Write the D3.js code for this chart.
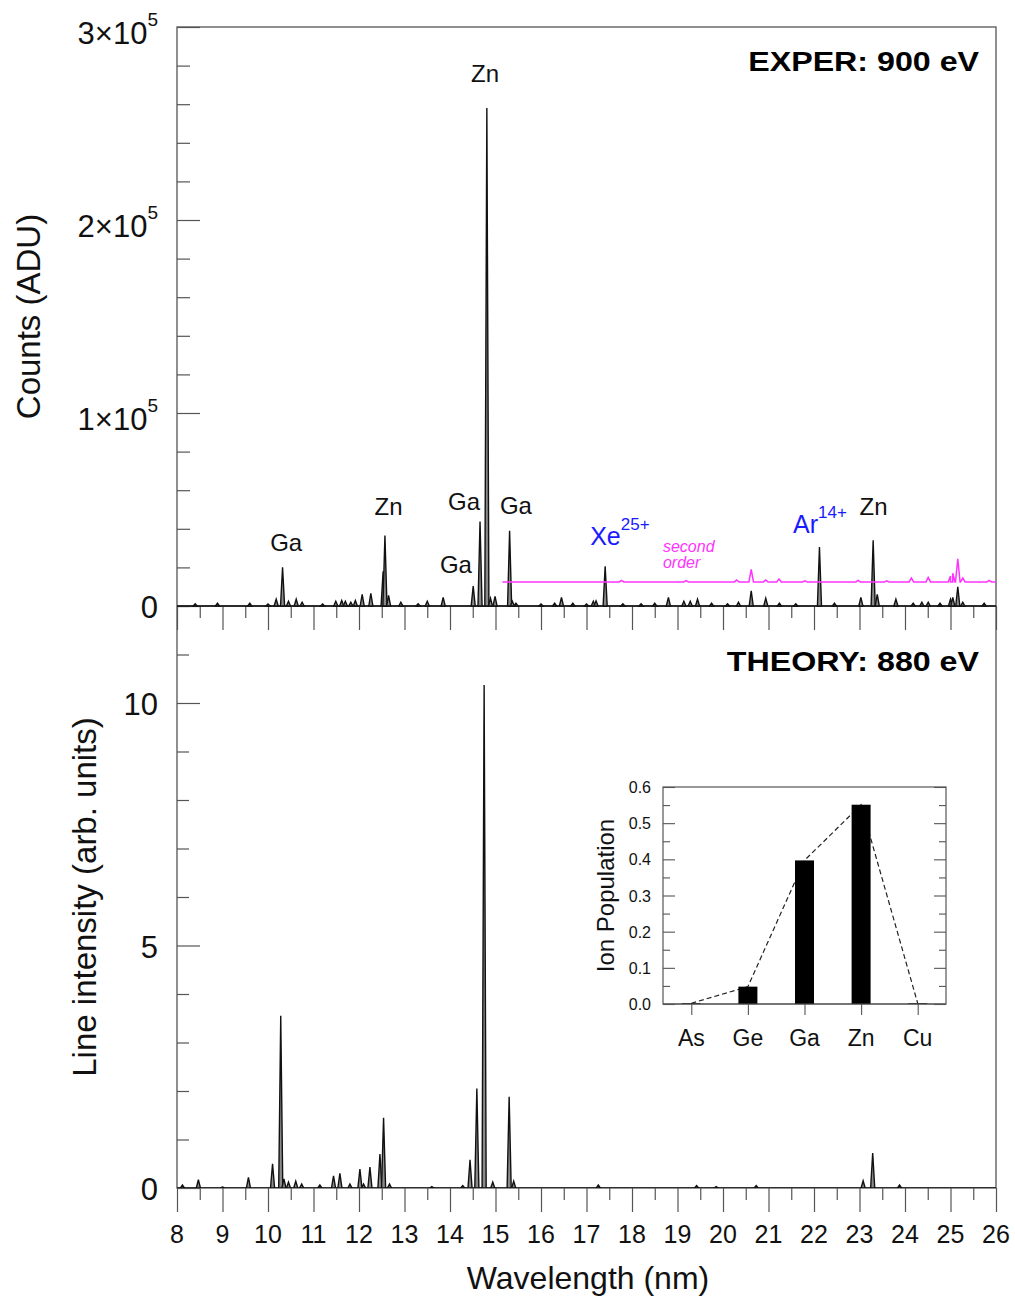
<!DOCTYPE html>
<html>
<head>
<meta charset="utf-8">
<script src="https://cdn.jsdelivr.net/npm/d3@7"></script>
<style>
  body { margin: 0; background: #fff; }
  text { font-family: "Liberation Sans", Arial, Helvetica, sans-serif; }
</style>
</head>
<body>
<div id="chart"></div>
<script>
// ---- data ----
// experiment, 900 eV: line centres (nm) and peak counts (ADU)
const experWl = [8.4, 8.89, 9.6, 10.0, 10.18, 10.32, 10.45, 10.62, 10.75, 11.2, 11.49, 11.62, 11.7, 11.82, 11.92,
  12.07, 12.26, 12.53, 12.57, 12.65, 12.92, 13.3, 13.5, 13.85, 14.51, 14.66, 14.81, 14.89, 14.99, 15.31, 15.37,
  15.45, 16.0, 16.3, 16.45, 16.7, 17.0, 17.15, 17.21, 17.41, 17.8, 18.2, 18.5, 18.8, 19.14, 19.28, 19.44, 19.75,
  20.1, 20.34, 20.62, 20.94, 21.24, 21.6, 22.12, 22.45, 23.03, 23.3, 23.39, 23.8, 24.18, 24.37, 24.51, 24.77,
  25.0, 25.05, 25.16, 25.27, 25.74]
const experCounts = [1200, 1500, 1500, 1000, 3500, 20000, 2500, 3500, 2000, 1000, 2500, 2800, 2500, 2000, 2800,
  6000, 6500, 18000, 36500, 5500, 2000, 1200, 2500, 4500, 10300, 43800, 258000, 4000, 5000, 39000, 2500,
  1500, 1000, 1500, 4500, 1500, 1000, 2500, 2700, 20600, 1200, 1200, 1500, 4500, 2500, 2500, 3500, 1500,
  1200, 2000, 7900, 4000, 1500, 1200, 30500, 1500, 4500, 34000, 6000, 3500, 1500, 2000, 2000, 1500,
  3500, 4500, 10000, 2000, 1500]

// second-order trace (offset copy drawn in magenta)
const secondStart = 15.15
const secondBase = 12500
const secondWl = [17.77, 19.19, 20.3, 20.62, 20.94, 21.23, 21.8, 22.97, 23.6, 24.14, 24.51, 25.0, 25.05, 25.16, 25.27, 25.85]
const secondPeak = [800, 700, 1000, 6500, 1000, 1500, 500, 800, 600, 2000, 2300, 3000, 4500, 12000, 2000, 800]

// theory, 880 eV: line centres (nm) and intensities (arb. units)
const theoryWl = [8.12, 8.47, 9.0, 9.57, 10.1, 10.28, 10.35, 10.45, 10.61, 10.74, 11.14, 11.44, 11.58, 11.8, 12.02,
  12.1, 12.24, 12.46, 12.54, 12.67, 13.6, 14.28, 14.44, 14.59, 14.75, 14.94, 15.3, 15.4, 17.26, 19.42, 19.85,
  20.73, 23.08, 23.29, 23.88]
const theoryInt = [0.06, 0.17, 0.02, 0.22, 0.5, 3.55, 0.19, 0.12, 0.14, 0.08, 0.06, 0.25, 0.3, 0.08, 0.39,
  0.08, 0.43, 0.7, 1.45, 0.08, 0.03, 0.05, 0.58, 2.05, 10.37, 0.12, 1.88, 0.14, 0.06, 0.05, 0.03,
  0.05, 0.15, 0.72, 0.06]

// line identifications in the top panel
const labelText = ['Zn', 'Zn', 'Ga', 'Ga', 'Ga', 'Ga', 'Zn']
const labelWl = [14.77, 12.65, 10.4, 14.13, 14.31, 15.45, 23.31]
const labelVal = [271500, 47000, 28500, 17000, 49700, 47700, 47000]

// inset: ion populations
const ions = ['As', 'Ge', 'Ga', 'Zn', 'Cu']
const ionPop = [0.002, 0.048, 0.397, 0.551, 0.002]

// tick labels
const wlTicks = [8, 9, 10, 11, 12, 13, 14, 15, 16, 17, 18, 19, 20, 21, 22, 23, 24, 25, 26]
const countTicks = [0, 1, 2, 3]   // x 10^5
const intTicks = [0, 5, 10]
const popTicks = [0, 0.1, 0.2, 0.3, 0.4, 0.5, 0.6]

// ---- layout ----
const svgWidth = 1015, svgHeight = 1296
const pL = 177, pR = 996, pT = 27, pM = 606, pB = 1188
const frameCol = '#555'

const svg = d3.select('#chart').append('svg')
  .attr('width', svgWidth)
  .attr('height', svgHeight)

const x = d3.scaleLinear().domain([8, 26]).range([pL, pR])
const yTop = d3.scaleLinear().domain([0, 3e5]).range([pM, pT])
const yBot = d3.scaleLinear().domain([0, 12]).range([pB, pM])

svg.append('defs').append('clipPath').attr('id', 'plotClip')
  .append('rect').attr('x', pL).attr('y', pT).attr('width', pR - pL).attr('height', pB - pT)

// tick helper: draws ticks with a d3 axis, no labels, no domain line
function ticks(axisFn, scale, values, size, tx, ty) {
  const g = svg.append('g')
    .attr('transform', 'translate(' + tx + ',' + ty + ')')
    .call(axisFn(scale).tickValues(values).tickSize(size).tickFormat(''))
  g.select('.domain').remove()
  g.selectAll('line').attr('stroke', frameCol).attr('stroke-width', 1.2)
  return g
}

const halfWl = d3.range(8.5, 26, 1)

// top panel ticks
ticks(d3.axisRight, yTop, countTicks.map(d => d * 1e5), 23, pL, 0)
ticks(d3.axisRight, yTop, d3.range(2e4, 3e5, 2e4).filter(d => d % 1e5 !== 0), 13, pL, 0)
ticks(d3.axisBottom, x, wlTicks, 24, 0, pM)
ticks(d3.axisBottom, x, halfWl, 12, 0, pM)

// bottom panel ticks
ticks(d3.axisRight, yBot, intTicks, 23, pL, 0)
ticks(d3.axisRight, yBot, d3.range(1, 13).filter(d => d % 5 !== 0), 12, pL, 0)
ticks(d3.axisBottom, x, wlTicks, 24, 0, pB)
ticks(d3.axisBottom, x, halfWl, 12, 0, pB)

// frame
svg.append('rect')
  .attr('x', pL).attr('y', pT)
  .attr('width', pR - pL).attr('height', pB - pT)
  .attr('fill', 'none').attr('stroke', frameCol).attr('stroke-width', 1.3)
svg.append('line')
  .attr('x1', pL).attr('x2', pR).attr('y1', pM).attr('y2', pM)
  .attr('stroke', frameCol).attr('stroke-width', 1.3)

// ---- spectra ----
const hw = 0.045
function drawSpectrum(wl, vals, y) {
  const g = svg.append('g').attr('clip-path', 'url(#plotClip)')
  const area = d3.area()
    .x(d => x(d[0]))
    .y0(y(0))
    .y1(d => y(d[1]))
  // baseline
  g.append('line')
    .attr('x1', x(8)).attr('x2', x(26))
    .attr('y1', y(0)).attr('y2', y(0))
    .attr('stroke', '#111').attr('stroke-width', 1.4)
  wl.forEach((w, i) => {
    g.append('path')
      .datum([[w - hw, 0], [w, vals[i]], [w + hw, 0]])
      .attr('d', area)
      .attr('fill', '#8a8a8a')
      .attr('stroke', '#111')
      .attr('stroke-width', 1.4)
  })
}
drawSpectrum(experWl, experCounts, yTop)
drawSpectrum(theoryWl, theoryInt, yBot)

// second-order trace
const secPts = [[secondStart, secondBase]]
secondWl.forEach((w, i) => {
  secPts.push([w - 0.05, secondBase], [w, secondBase + secondPeak[i]], [w + 0.05, secondBase])
})
secPts.push([26, secondBase])
secPts.sort((a, b) => a[0] - b[0])
svg.append('path')
  .attr('clip-path', 'url(#plotClip)')
  .datum(secPts)
  .attr('d', d3.line().x(d => x(d[0])).y(d => yTop(d[1])))
  .attr('fill', 'none')
  .attr('stroke', '#ff33ff')
  .attr('stroke-width', 1.5)

// ---- annotations ----
svg.append('g').selectAll('text')
  .data(labelText).enter()
  .append('text')
    .attr('x', (d, i) => x(labelWl[i]))
    .attr('y', (d, i) => yTop(labelVal[i]))
    .attr('text-anchor', 'middle')
    .attr('font-size', 24)
    .attr('fill', '#111')
    .text(d => d)

function ionLabel(base, charge, wl, val) {
  const t = svg.append('text')
    .attr('x', x(wl)).attr('y', yTop(val))
    .attr('font-size', 25).attr('fill', '#1a1aff')
  t.append('tspan').text(base)
  t.append('tspan').attr('font-size', 17).attr('dy', -15).text(charge)
}
ionLabel('Xe', '25+', 17.08, 31600)
ionLabel('Ar', '14+', 21.54, 37800)

svg.append('text')
  .attr('x', x(18.68)).attr('y', 552)
  .attr('font-size', 16).attr('font-style', 'italic').attr('fill', '#ff33ff')
  .text('second')
svg.append('text')
  .attr('x', x(18.68)).attr('y', 568)
  .attr('font-size', 16).attr('font-style', 'italic').attr('fill', '#ff33ff')
  .text('order')

// panel titles
svg.append('text')
  .attr('transform', 'translate(' + (pR - 17) + ',71) scale(1.15,1)')
  .attr('text-anchor', 'end').attr('font-size', 28).attr('font-weight', 'bold')
  .text('EXPER: 900 eV')
svg.append('text')
  .attr('transform', 'translate(' + (pR - 17) + ',671) scale(1.15,1)')
  .attr('text-anchor', 'end').attr('font-size', 28).attr('font-weight', 'bold')
  .text('THEORY: 880 eV')

// ---- axis labels ----
const countLabels = svg.append('g').selectAll('text')
  .data(countTicks).enter()
  .append('text')
    .attr('x', 158)
    .attr('y', d => yTop(d * 1e5) + (d === 0 ? 12 : 17))
    .attr('text-anchor', 'end')
    .attr('font-size', 31)
    .attr('fill', '#111')
countLabels.each(function(d) {
  const t = d3.select(this)
  if (d === 0) { t.text('0'); return }
  t.append('tspan').text(d + '\u00d710')
  t.append('tspan').attr('font-size', 19).attr('dy', -18).text('5')
})

svg.append('g').selectAll('text')
  .data(intTicks).enter()
  .append('text')
    .attr('x', 158)
    .attr('y', d => yBot(d) + 12)
    .attr('text-anchor', 'end')
    .attr('font-size', 31)
    .attr('fill', '#111')
    .text(d => d)

svg.append('g').selectAll('text')
  .data(wlTicks).enter()
  .append('text')
    .attr('x', d => x(d))
    .attr('y', 1243)
    .attr('text-anchor', 'middle')
    .attr('font-size', 25)
    .attr('fill', '#111')
    .text(d => d)

svg.append('text')
  .attr('x', 588).attr('y', 1289)
  .attr('text-anchor', 'middle').attr('font-size', 32).attr('fill', '#111')
  .text('Wavelength (nm)')

svg.append('text')
  .attr('transform', 'translate(40,' + ((pT + pM) / 2) + ') rotate(-90)')
  .attr('text-anchor', 'middle').attr('font-size', 33).attr('fill', '#111')
  .text('Counts (ADU)')

svg.append('text')
  .attr('transform', 'translate(96,' + ((pM + pB) / 2) + ') rotate(-90)')
  .attr('text-anchor', 'middle').attr('font-size', 33).attr('fill', '#111')
  .text('Line intensity (arb. units)')

// ---- inset: ion populations ----
const inL = 663, inR = 946, inT = 787, inB = 1004
const xi = d3.scalePoint().domain(ions).range([inL, inR]).padding(0.5)
const yi = d3.scaleLinear().domain([0, 0.6]).range([inB, inT])
const inset = svg.append('g')

inset.append('rect')
  .attr('x', inL).attr('y', inT).attr('width', inR - inL).attr('height', inB - inT)
  .attr('fill', '#fff').attr('stroke', frameCol).attr('stroke-width', 1.2)

const minorPop = d3.range(0.05, 0.6, 0.1)
function insetTicks(axisFn, values, size, tx) {
  const g = inset.append('g')
    .attr('transform', 'translate(' + tx + ',0)')
    .call(axisFn(yi).tickValues(values).tickSize(size).tickFormat(''))
  g.select('.domain').remove()
  g.selectAll('line').attr('stroke', frameCol).attr('stroke-width', 1.1)
}
insetTicks(d3.axisRight, popTicks, 12, inL)
insetTicks(d3.axisRight, minorPop, 7, inL)
insetTicks(d3.axisLeft, popTicks, 12, inR)
insetTicks(d3.axisLeft, minorPop, 7, inR)

const xAx = inset.append('g')
  .attr('transform', 'translate(0,' + inB + ')')
  .call(d3.axisBottom(xi).tickSize(11).tickFormat(''))
xAx.select('.domain').remove()
xAx.selectAll('line').attr('stroke', frameCol).attr('stroke-width', 1.1)

// dashed trend line behind the bars
inset.append('path')
  .datum(ions)
  .attr('d', d3.line().x(d => xi(d)).y((d, i) => yi(ionPop[i])))
  .attr('fill', 'none').attr('stroke', '#222')
  .attr('stroke-width', 1.2).attr('stroke-dasharray', '5,3')

const barW = 19
inset.selectAll('rect.bar')
  .data(ions).enter()
  .append('rect')
    .attr('class', 'bar')
    .attr('x', d => xi(d) - barW / 2)
    .attr('y', (d, i) => yi(ionPop[i]))
    .attr('width', barW)
    .attr('height', (d, i) => inB - yi(ionPop[i]))
    .attr('fill', '#000')

inset.append('line')
  .attr('x1', inL).attr('x2', inR).attr('y1', inB).attr('y2', inB)
  .attr('stroke', frameCol).attr('stroke-width', 1.2)

inset.selectAll('text.ytick')
  .data(popTicks).enter()
  .append('text')
    .attr('class', 'ytick')
    .attr('x', inL - 12)
    .attr('y', d => yi(d) + 6)
    .attr('text-anchor', 'end')
    .attr('font-size', 16)
    .attr('fill', '#111')
    .text(d => d.toFixed(1))

inset.selectAll('text.xcat')
  .data(ions).enter()
  .append('text')
    .attr('class', 'xcat')
    .attr('x', d => xi(d))
    .attr('y', 1046)
    .attr('text-anchor', 'middle')
    .attr('font-size', 23)
    .attr('fill', '#111')
    .text(d => d)

inset.append('text')
  .attr('transform', 'translate(614,' + ((inT + inB) / 2) + ') rotate(-90)')
  .attr('text-anchor', 'middle').attr('font-size', 24).attr('fill', '#111')
  .text('Ion Population')
</script>
</body>
</html>
